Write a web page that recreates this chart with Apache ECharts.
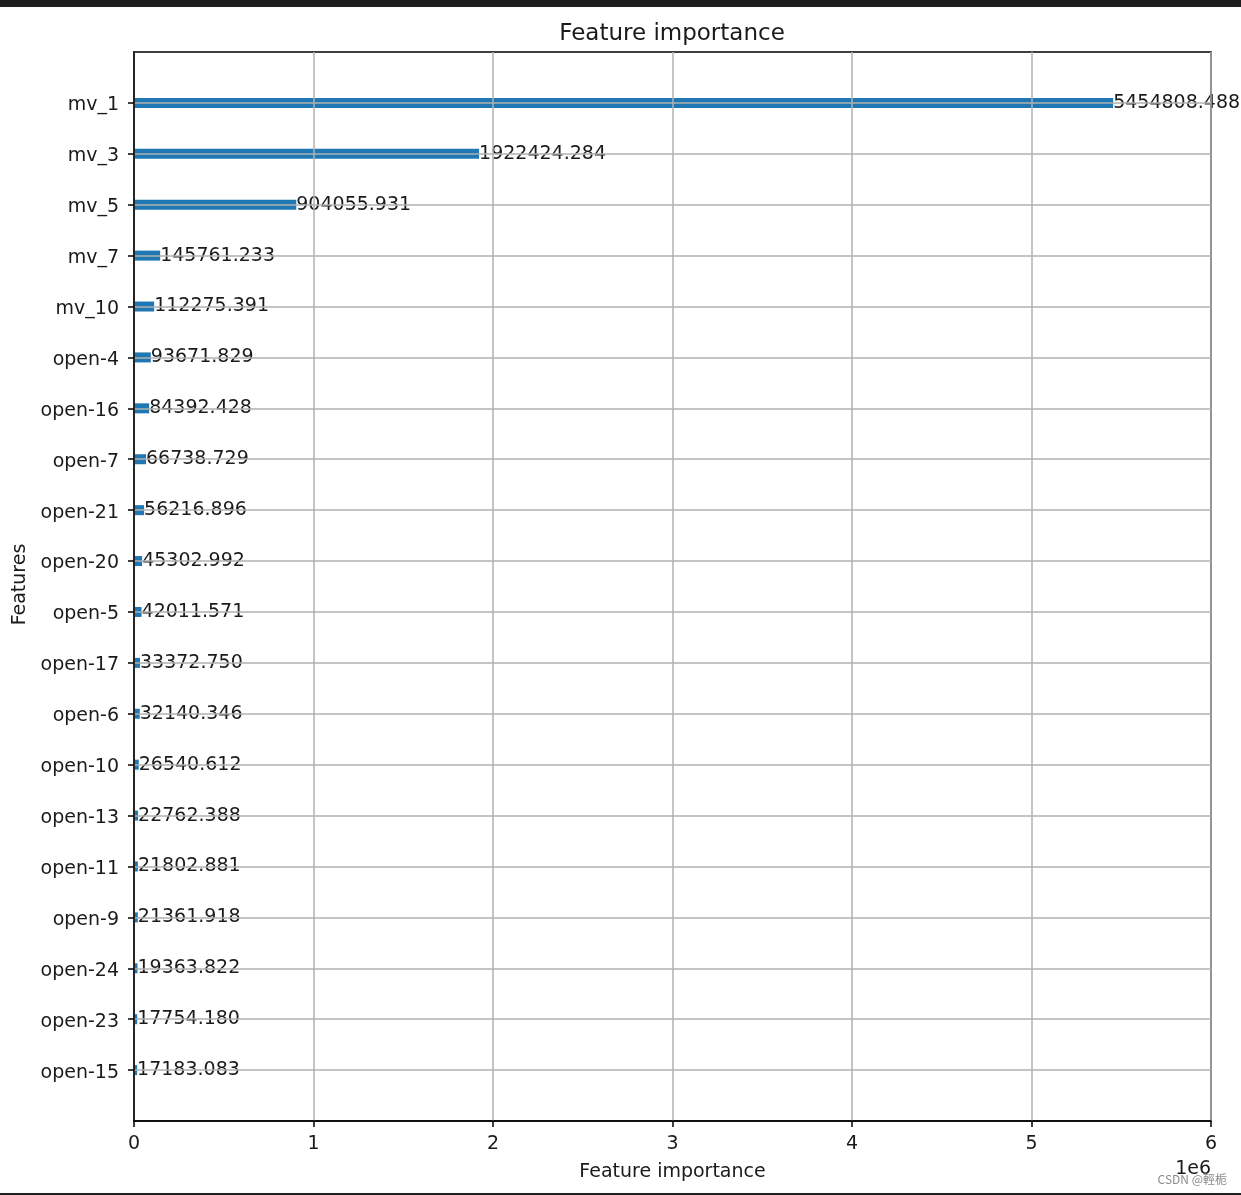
<!DOCTYPE html>
<html>
<head>
<meta charset="utf-8">
<script src="https://cdn.jsdelivr.net/npm/echarts@6/dist/echarts.min.js"></script>
<style>
html,body{margin:0;padding:0;background:#fff;}
#c{width:1241px;height:1195px;}
</style>
</head>
<body>
<div id="c"></div>
<script>
var features = ['mv_1','mv_3','mv_5','mv_7','mv_10','open-4','open-16','open-7','open-21','open-20','open-5','open-17','open-6','open-10','open-13','open-11','open-9','open-24','open-23','open-15'];
var importance = [5454808.488,1922424.284,904055.931,145761.233,112275.391,93671.829,84392.428,66738.729,56216.896,45302.992,42011.571,33372.750,32140.346,26540.612,22762.388,21802.881,21361.918,19363.822,17754.180,17183.083];
var xTicks = [0,1,2,3,4,5,6];
var xScale = 1e6;

var cats = [''].concat(features).concat(['']);
var vals = [null].concat(importance).concat([null]);
var FONT = 'DejaVu Sans';
var TXT = '#1a1a1a';

var chart = echarts.init(document.getElementById('c'), null, {renderer:'canvas'});
chart.setOption({
  animation:false,
  backgroundColor:'#ffffff',
  title:{
    text:'Feature importance', left:667, top:18, textAlign:'center',
    textStyle:{fontFamily:FONT, fontSize:23, fontWeight:'normal', color:TXT}
  },
  grid:{left:134, right:30, top:52, bottom:74, show:true, borderColor:'#000', borderWidth:1.5, backgroundColor:'transparent'},
  xAxis:{
    type:'value', min:xTicks[0]*xScale, max:xTicks[xTicks.length-1]*xScale, interval:xScale,
    name:'Feature importance', nameLocation:'middle', nameGap:42,
    nameTextStyle:{fontFamily:FONT, fontSize:19, color:TXT},
    axisLine:{show:true, lineStyle:{color:'#000', width:1.5}},
    axisTick:{show:true, length:6, lineStyle:{color:'#000', width:1.5}},
    axisLabel:{margin:14, fontFamily:FONT, fontSize:19, color:TXT, formatter:function(v){return String(Math.round(v/xScale));}},
    splitLine:{show:true, lineStyle:{color:'#b0b0b0', width:1.5}}
  },
  yAxis:{
    type:'category', data:cats, inverse:true, boundaryGap:false,
    name:'Features', nameLocation:'middle', nameGap:100, nameRotate:90,
    nameTextStyle:{fontFamily:FONT, fontSize:19, color:TXT, padding:[0,0,0,4]},
    axisLine:{show:true, lineStyle:{color:'#000', width:1.5}},
    axisTick:{show:true, length:6, interval:function(i){return i>0 && i<cats.length-1;}, lineStyle:{color:'#000', width:1.5}},
    axisLabel:{margin:15, fontFamily:FONT, fontSize:19, color:TXT, interval:0,
      formatter:function(v){return v ? '{a|' + v + '}' : '';},
      rich:{a:{fontFamily:FONT, fontSize:19, color:TXT, padding:[5,0,0,0]}}},
    splitLine:{show:true, interval:function(i){return i>0 && i<cats.length-1;}, lineStyle:{color:'#b0b0b0', width:1.5}}
  },
  series:[{
    type:'bar', data:vals, barWidth:10, z:-1,
    itemStyle:{color:'#1f77b4'},
    label:{show:true, position:'right', distance:0, fontFamily:FONT, fontSize:19, color:TXT,
      formatter:function(p){return p.value==null?'':p.value.toFixed(3);}}
  }],
  graphic:[
    {type:'rect', left:0, top:0, shape:{width:1241, height:7}, style:{fill:'#1e1e1e'}},
    {type:'rect', left:0, top:1193, shape:{width:1241, height:2}, style:{fill:'#1e1e1e'}},
    {type:'text', right:30, top:1160, style:{text:'1e6', font:'19px "DejaVu Sans"', fill:TXT}},
    {type:'text', right:14, top:1173, style:{text:'CSDN @輕栀', font:'12px "Noto Sans CJK SC", "DejaVu Sans"', fill:'#8a8a8a'}}
  ]
});
</script>
</body>
</html>
